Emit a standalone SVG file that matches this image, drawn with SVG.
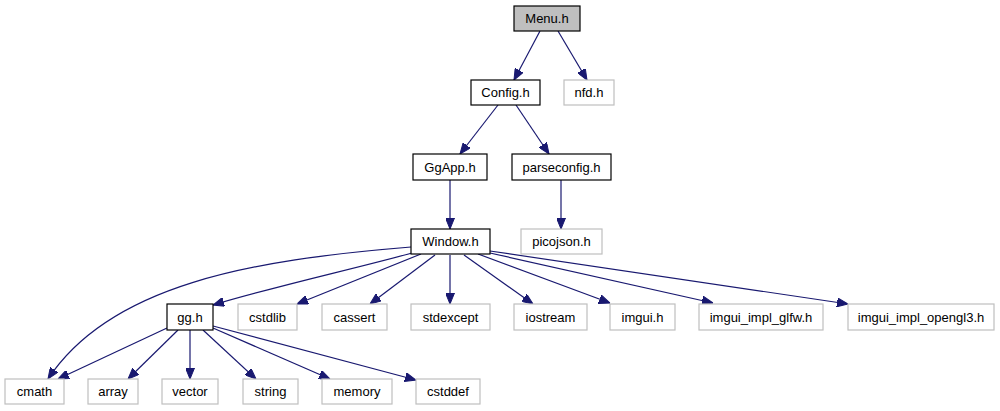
<svg xmlns="http://www.w3.org/2000/svg" width="1000" height="411" viewBox="0 0 1000 411">
<style>
rect{stroke-width:1.2}
.d{fill:#fff;stroke:#000}
.m{fill:#bfbfbf;stroke:#000}
.u{fill:#fff;stroke:#bfbfbf}
text{font-family:"Liberation Sans",Arial,sans-serif;font-size:13px;fill:#000;text-anchor:middle}
#edges path{fill:none;stroke:#191970;stroke-width:1.2}
</style>
<defs>
<marker id="a" markerUnits="userSpaceOnUse" markerWidth="11" markerHeight="9" refX="11" refY="4.5" orient="auto">
<path d="M0,0 L11,4.5 L0,9 z" fill="#191970" stroke="#191970" stroke-width="1"/>
</marker>
</defs>
<g id="edges">
<path d="M540,31 L514,80" marker-end="url(#a)"/>
<path d="M558,31 L587,80" marker-end="url(#a)"/>
<path d="M498,105 L460,154" marker-end="url(#a)"/>
<path d="M516,105 L549,154" marker-end="url(#a)"/>
<path d="M450,180 L450,229" marker-end="url(#a)"/>
<path d="M561,180 L561,229" marker-end="url(#a)"/>
<path d="M411,247 C250,260 110,285 48,379" marker-end="url(#a)"/>
<path d="M412,253 C350,270 280,285 213,305" marker-end="url(#a)"/>
<path d="M421,254 L297,304" marker-end="url(#a)"/>
<path d="M435,255 L370,304" marker-end="url(#a)"/>
<path d="M450,255 L450,304" marker-end="url(#a)"/>
<path d="M464,255 L533,304" marker-end="url(#a)"/>
<path d="M478,254 L610,303" marker-end="url(#a)"/>
<path d="M490,253 L713,303" marker-end="url(#a)"/>
<path d="M490,251 L848,304" marker-end="url(#a)"/>
<path d="M167,328 L58,379" marker-end="url(#a)"/>
<path d="M178,330 L128,379" marker-end="url(#a)"/>
<path d="M190,330 L190,379" marker-end="url(#a)"/>
<path d="M203,330 L256,379" marker-end="url(#a)"/>
<path d="M213,328 L330,379" marker-end="url(#a)"/>
<path d="M213,326 L416,380" marker-end="url(#a)"/>
</g>
<g id="menu"><rect class="m" x="514" y="6" width="66" height="25"/><text x="547" y="23">Menu.h</text></g>
<g id="config"><rect class="d" x="471" y="80" width="69" height="25"/><text x="505.5" y="97">Config.h</text></g>
<g id="nfd"><rect class="u" x="564" y="80" width="50" height="25"/><text x="589" y="97">nfd.h</text></g>
<g id="ggapp"><rect class="d" x="413" y="154" width="74" height="26"/><text x="450" y="171.5">GgApp.h</text></g>
<g id="parseconfig"><rect class="d" x="512" y="154" width="99" height="26"/><text x="561.5" y="171.5">parseconfig.h</text></g>
<g id="window"><rect class="d" x="411" y="229" width="79" height="25"/><text x="450.5" y="246">Window.h</text></g>
<g id="picojson"><rect class="u" x="521" y="229" width="81" height="25"/><text x="561.5" y="246">picojson.h</text></g>
<g id="gg"><rect class="d" x="167" y="304" width="46" height="26"/><text x="190" y="321.5">gg.h</text></g>
<g id="cstdlib"><rect class="u" x="238" y="304" width="59" height="26"/><text x="267.5" y="321.5">cstdlib</text></g>
<g id="cassert"><rect class="u" x="322" y="304" width="65" height="26"/><text x="354.5" y="321.5">cassert</text></g>
<g id="stdexcept"><rect class="u" x="411" y="304" width="79" height="26"/><text x="450.5" y="321.5">stdexcept</text></g>
<g id="iostream"><rect class="u" x="514" y="304" width="73" height="26"/><text x="550.5" y="321.5">iostream</text></g>
<g id="imgui"><rect class="u" x="610" y="304" width="65" height="26"/><text x="642.5" y="321.5">imgui.h</text></g>
<g id="imgui_impl_glfw"><rect class="u" x="699" y="304" width="124" height="26"/><text x="761" y="321.5">imgui_impl_glfw.h</text></g>
<g id="imgui_impl_opengl3"><rect class="u" x="848" y="304" width="146" height="26"/><text x="921" y="321.5">imgui_impl_opengl3.h</text></g>
<g id="cmath"><rect class="u" x="5" y="379" width="59" height="25"/><text x="34.5" y="396">cmath</text></g>
<g id="array"><rect class="u" x="88" y="379" width="50" height="25"/><text x="113" y="396">array</text></g>
<g id="vector"><rect class="u" x="162" y="379" width="56" height="25"/><text x="190" y="396">vector</text></g>
<g id="string"><rect class="u" x="243" y="379" width="55" height="25"/><text x="270.5" y="396">string</text></g>
<g id="memory"><rect class="u" x="322" y="379" width="70" height="25"/><text x="357" y="396">memory</text></g>
<g id="cstddef"><rect class="u" x="416" y="379" width="64" height="25"/><text x="448" y="396">cstddef</text></g>
</svg>
